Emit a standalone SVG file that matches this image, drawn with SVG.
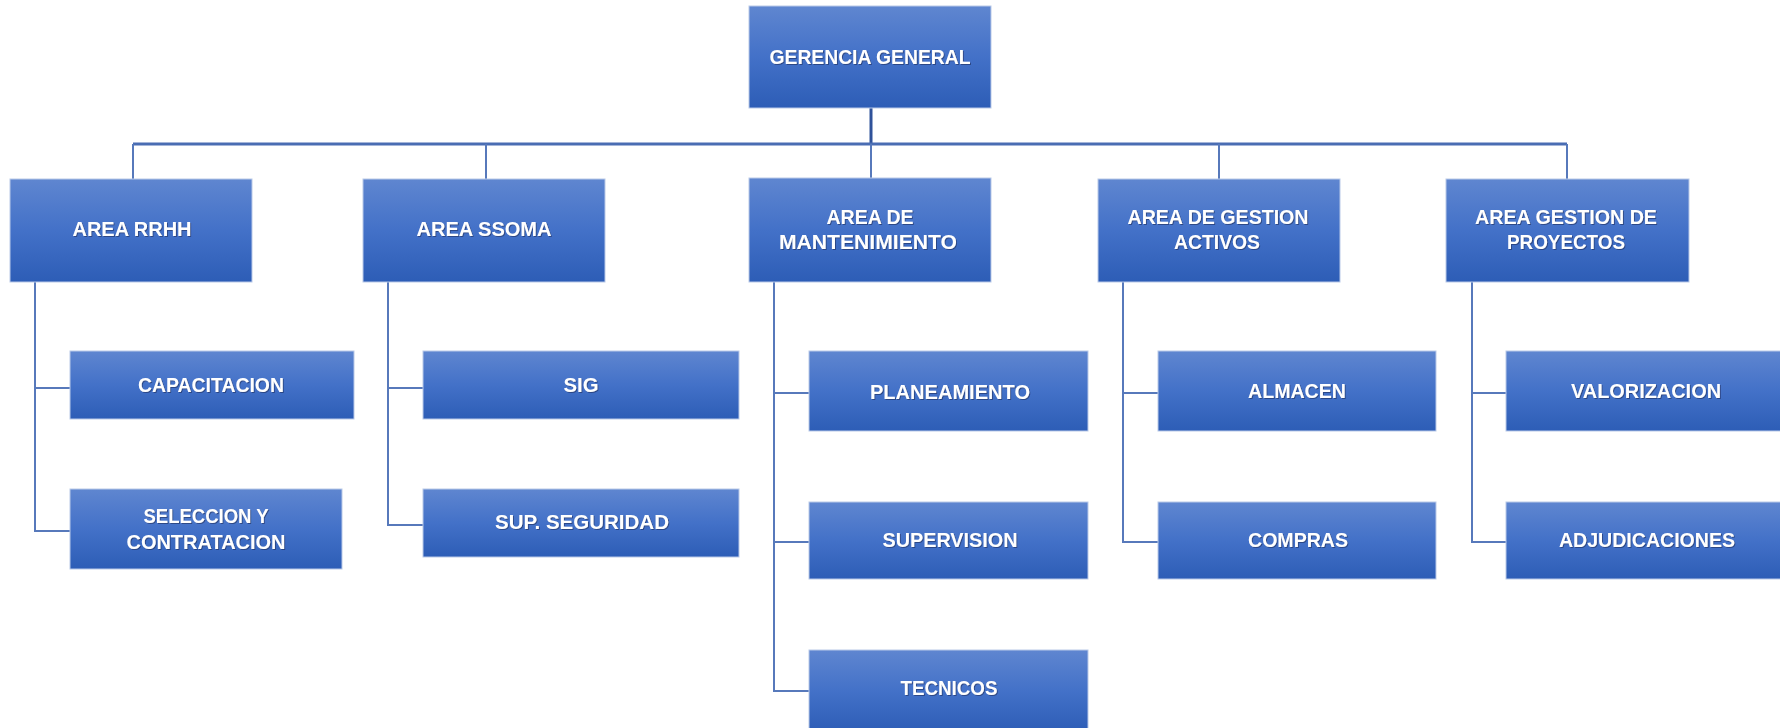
<svg xmlns="http://www.w3.org/2000/svg" width="1780" height="728" viewBox="0 0 1780 728">
<defs>
<linearGradient id="g" x1="0" y1="0" x2="0" y2="1">
<stop offset="0" stop-color="#5f86d0"/>
<stop offset="0.5" stop-color="#4371c8"/>
<stop offset="1" stop-color="#2d5db6"/>
</linearGradient>
<filter id="ts" x="-10%" y="-30%" width="120%" height="160%">
<feDropShadow dx="1" dy="1" stdDeviation="0.6" flood-color="#1a2f5a" flood-opacity="0.6"/>
</filter>
</defs>
<style>
.box{fill:url(#g);stroke:#b9c9e8;stroke-width:1}
.t{font-family:"Liberation Sans",Arial,sans-serif;font-weight:bold;font-size:20px;fill:#ffffff;text-anchor:middle;filter:url(#ts)}
.c{fill:none;stroke:#5779bb;stroke-width:2}
.main{fill:none;stroke:#4a6db3;stroke-width:3}
.top{fill:none;stroke:#2f529a;stroke-width:3}
</style>
<rect width="1780" height="728" fill="#ffffff"/>
<g id="connectors">
<line class="top" x1="871" y1="108" x2="871" y2="144"/>
<line class="main" x1="133" y1="144" x2="1567" y2="144"/>
<line class="c" x1="133" y1="144" x2="133" y2="179"/>
<line class="c" x1="486" y1="144" x2="486" y2="179"/>
<line class="c" x1="871" y1="144" x2="871" y2="178"/>
<line class="c" x1="1219" y1="144" x2="1219" y2="179"/>
<line class="c" x1="1567" y1="144" x2="1567" y2="179"/>
<polyline class="c" points="35,282 35,531 70,531"/>
<line class="c" x1="35" y1="388" x2="70" y2="388"/>
<polyline class="c" points="388,282 388,525 423,525"/>
<line class="c" x1="388" y1="388" x2="423" y2="388"/>
<polyline class="c" points="774,282 774,691 809,691"/>
<line class="c" x1="774" y1="393" x2="809" y2="393"/>
<line class="c" x1="774" y1="542" x2="809" y2="542"/>
<polyline class="c" points="1123,282 1123,542 1158,542"/>
<line class="c" x1="1123" y1="393" x2="1158" y2="393"/>
<polyline class="c" points="1472,282 1472,542 1506,542"/>
<line class="c" x1="1472" y1="393" x2="1506" y2="393"/>
</g>
<g id="gerencia"><rect class="box" x="749" y="6" width="242" height="102"/><text class="t" x="870" y="64" textLength="201" lengthAdjust="spacingAndGlyphs">GERENCIA GENERAL</text></g>
<g id="rrhh"><rect class="box" x="10" y="179" width="242" height="103"/><text class="t" x="132" y="236" textLength="119" lengthAdjust="spacingAndGlyphs">AREA RRHH</text></g>
<g id="ssoma"><rect class="box" x="363" y="179" width="242" height="103"/><text class="t" x="484" y="236" textLength="135" lengthAdjust="spacingAndGlyphs">AREA SSOMA</text></g>
<g id="mantenimiento"><rect class="box" x="749" y="178" width="242" height="104"/><text class="t" x="870" y="224" textLength="87" lengthAdjust="spacingAndGlyphs">AREA DE</text><text class="t" x="868" y="249" textLength="178" lengthAdjust="spacingAndGlyphs">MANTENIMIENTO</text></g>
<g id="activos"><rect class="box" x="1098" y="179" width="242" height="103"/><text class="t" x="1218" y="224" textLength="181" lengthAdjust="spacingAndGlyphs">AREA DE GESTION</text><text class="t" x="1217" y="249" textLength="86" lengthAdjust="spacingAndGlyphs">ACTIVOS</text></g>
<g id="proyectos"><rect class="box" x="1446" y="179" width="243" height="103"/><text class="t" x="1566" y="224" textLength="182" lengthAdjust="spacingAndGlyphs">AREA GESTION DE</text><text class="t" x="1566" y="249" textLength="118" lengthAdjust="spacingAndGlyphs">PROYECTOS</text></g>
<g id="capacitacion"><rect class="box" x="70" y="351" width="284" height="68"/><text class="t" x="211" y="392" textLength="146" lengthAdjust="spacingAndGlyphs">CAPACITACION</text></g>
<g id="seleccion"><rect class="box" x="70" y="489" width="272" height="80"/><text class="t" x="206" y="523" textLength="125" lengthAdjust="spacingAndGlyphs">SELECCION Y</text><text class="t" x="206" y="549" textLength="159" lengthAdjust="spacingAndGlyphs">CONTRATACION</text></g>
<g id="sig"><rect class="box" x="423" y="351" width="316" height="68"/><text class="t" x="581" y="392" textLength="35" lengthAdjust="spacingAndGlyphs">SIG</text></g>
<g id="seguridad"><rect class="box" x="423" y="489" width="316" height="68"/><text class="t" x="582" y="529" textLength="174" lengthAdjust="spacingAndGlyphs">SUP. SEGURIDAD</text></g>
<g id="planeamiento"><rect class="box" x="809" y="351" width="279" height="80"/><text class="t" x="950" y="399" textLength="160" lengthAdjust="spacingAndGlyphs">PLANEAMIENTO</text></g>
<g id="supervision"><rect class="box" x="809" y="502" width="279" height="77"/><text class="t" x="950" y="547" textLength="135" lengthAdjust="spacingAndGlyphs">SUPERVISION</text></g>
<g id="tecnicos"><rect class="box" x="809" y="650" width="279" height="82"/><text class="t" x="949" y="695" textLength="97" lengthAdjust="spacingAndGlyphs">TECNICOS</text></g>
<g id="almacen"><rect class="box" x="1158" y="351" width="278" height="80"/><text class="t" x="1297" y="398" textLength="98" lengthAdjust="spacingAndGlyphs">ALMACEN</text></g>
<g id="compras"><rect class="box" x="1158" y="502" width="278" height="77"/><text class="t" x="1298" y="547" textLength="100" lengthAdjust="spacingAndGlyphs">COMPRAS</text></g>
<g id="valorizacion"><rect class="box" x="1506" y="351" width="282" height="80"/><text class="t" x="1646" y="398" textLength="150" lengthAdjust="spacingAndGlyphs">VALORIZACION</text></g>
<g id="adjudicaciones"><rect class="box" x="1506" y="502" width="282" height="77"/><text class="t" x="1647" y="547" textLength="176" lengthAdjust="spacingAndGlyphs">ADJUDICACIONES</text></g>
</svg>
